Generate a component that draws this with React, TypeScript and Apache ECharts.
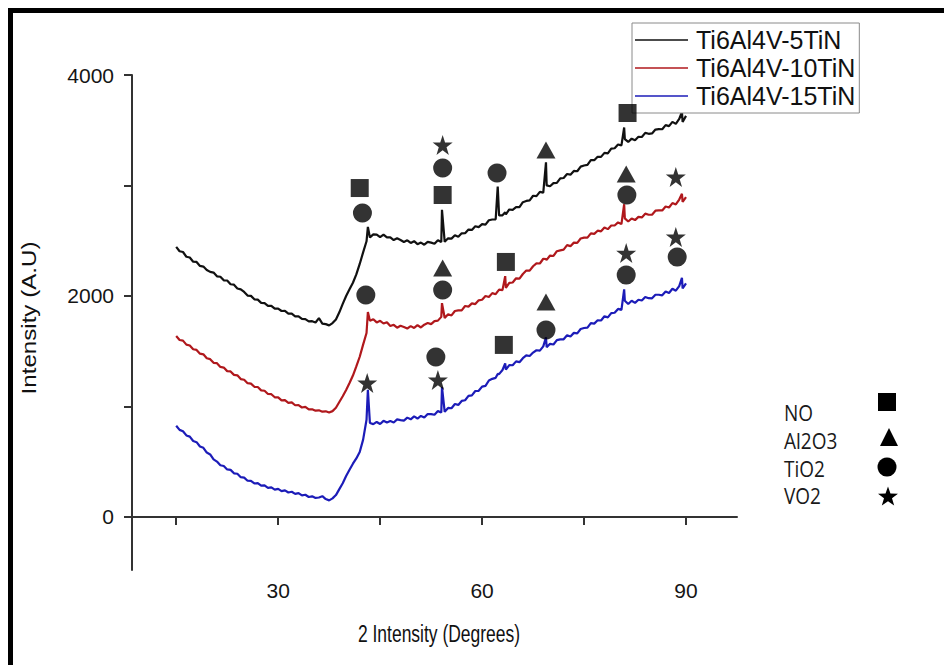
import React, { useEffect, useRef } from 'react';
import * as echarts from 'echarts';

// 2θ angles (degrees) shared by the three traces
const angles = [
  15, 15.5, 16, 16.5, 17, 17.5, 18, 18.5, 19, 19.5,
  20, 20.5, 21, 21.5, 22, 22.5, 23, 23.5, 24, 24.5,
  25, 25.5, 26, 26.5, 27, 27.5, 28, 28.5, 29, 29.5,
  30, 30.5, 31, 31.5, 32, 32.5, 33, 33.5, 34, 34.5,
  35, 35.5, 36, 36.5, 37, 37.5, 38, 38.5, 39, 39.5,
  40, 40.5, 41, 41.5, 42, 42.5, 43, 43.2, 43.5, 44,
  44.5, 45, 45.5, 46, 46.5, 47, 47.5, 48, 48.5, 49,
  49.5, 50, 50.5, 51, 51.5, 52, 52.5, 53, 53.5, 54,
  54.1, 54.5, 55, 55.5, 56, 56.5, 57, 57.5, 58, 58.5,
  59, 59.5, 60, 60.5, 61, 61.5, 62, 62.3, 62.5, 63,
  63.4, 63.5, 64, 64.5, 65, 65.5, 66, 66.5, 67, 67.5,
  68, 68.5, 69, 69.4, 69.5, 70, 70.5, 71, 71.5, 72,
  72.5, 73, 73.5, 74, 74.5, 75, 75.5, 76, 76.5, 77,
  77.5, 78, 78.5, 79, 79.5, 80, 80.5, 80.9, 81, 81.5,
  82, 82.5, 83, 83.5, 84, 84.5, 85, 85.5, 86, 86.5,
  87, 87.5, 88, 88.5, 89, 89.4, 89.5, 90,
];

const tin5 = [
  2445, 2405, 2398, 2355, 2348, 2310, 2308, 2272, 2266, 2235,
  2218, 2212, 2178, 2174, 2142, 2140, 2106, 2102, 2068, 2060,
  2037, 2004, 2001, 1970, 1967, 1938, 1936, 1910, 1911, 1885,
  1886, 1864, 1866, 1841, 1840, 1816, 1815, 1792, 1790, 1770,
  1772, 1760, 1800, 1750, 1745, 1734, 1755, 1788, 1852, 1928,
  2000, 2060, 2120, 2195, 2290, 2395, 2495, 2625, 2530, 2558,
  2556, 2533, 2555, 2530, 2531, 2506, 2522, 2507, 2489, 2504,
  2480, 2496, 2469, 2483, 2464, 2489, 2483, 2473, 2504, 2488,
  2780, 2490, 2522, 2519, 2549, 2536, 2567, 2568, 2601, 2598,
  2631, 2623, 2650, 2646, 2685, 2692, 2694, 2990, 2730, 2730,
  2757, 2739, 2783, 2779, 2804, 2805, 2849, 2860, 2865, 2907,
  2904, 2942, 2936, 3210, 3001, 2993, 3021, 3023, 3064, 3068,
  3104, 3098, 3132, 3129, 3171, 3181, 3186, 3229, 3229, 3260,
  3259, 3295, 3291, 3334, 3337, 3371, 3363, 3525, 3420, 3394,
  3424, 3410, 3441, 3439, 3476, 3468, 3471, 3506, 3510, 3509,
  3546, 3537, 3576, 3558, 3602, 3665, 3575, 3630,
];

const tin10 = [
  1638, 1602, 1596, 1560, 1552, 1518, 1512, 1478, 1472, 1436,
  1428, 1395, 1392, 1358, 1352, 1320, 1317, 1286, 1282, 1248,
  1242, 1211, 1207, 1178, 1176, 1146, 1142, 1113, 1111, 1083,
  1082, 1055, 1057, 1033, 1037, 1011, 1012, 991, 996, 974,
  975, 962, 965, 953, 956, 945, 958, 988, 1040, 1092,
  1150, 1212, 1280, 1362, 1450, 1560, 1665, 1855, 1775, 1790,
  1761, 1775, 1751, 1763, 1728, 1739, 1713, 1731, 1720, 1706,
  1727, 1711, 1736, 1715, 1740, 1755, 1745, 1773, 1777, 1811,
  1935, 1801, 1834, 1824, 1864, 1869, 1870, 1909, 1904, 1933,
  1927, 1961, 1966, 2000, 1991, 2026, 2016, 2042, 2057, 2053,
  2180, 2073, 2119, 2122, 2160, 2157, 2199, 2230, 2229, 2269,
  2295, 2294, 2337, 2333, 2327, 2366, 2362, 2405, 2413, 2420,
  2460, 2451, 2483, 2480, 2520, 2528, 2528, 2567, 2562, 2591,
  2585, 2620, 2605, 2638, 2638, 2666, 2651, 2830, 2702, 2674,
  2701, 2687, 2716, 2711, 2745, 2735, 2736, 2772, 2775, 2774,
  2810, 2801, 2841, 2828, 2873, 2925, 2851, 2895,
];

const tin15 = [
  826, 788, 776, 738, 727, 688, 677, 638, 626, 583,
  566, 521, 501, 468, 461, 430, 426, 395, 391, 360,
  356, 328, 326, 303, 306, 283, 286, 264, 268, 248,
  254, 234, 241, 221, 228, 209, 216, 195, 201, 181,
  187, 172, 176, 188, 162, 150, 168, 198, 252, 305,
  370, 428, 482, 530, 588, 700, 880, 1150, 850, 840,
  860, 841, 870, 855, 868, 855, 883, 877, 872, 899,
  884, 910, 891, 914, 900, 932, 931, 925, 958, 945,
  1175, 952, 987, 984, 1022, 1014, 1050, 1056, 1096, 1101,
  1140, 1142, 1180, 1186, 1235, 1250, 1259, 1295, 1293, 1330,
  1390, 1333, 1375, 1373, 1408, 1401, 1437, 1462, 1457, 1488,
  1509, 1505, 1544, 1625, 1536, 1567, 1561, 1600, 1607, 1608,
  1645, 1634, 1666, 1661, 1701, 1710, 1713, 1754, 1750, 1780,
  1778, 1816, 1806, 1845, 1848, 1883, 1874, 2060, 1957, 1928,
  1957, 1938, 1966, 1959, 1991, 1980, 1979, 2011, 2011, 2006,
  2040, 2027, 2065, 2048, 2090, 2165, 2068, 2114,
];

// Phase markers [2θ, intensity]
const noMarks = [[42.0, 2977], [54.2, 2914], [81.4, 3656], [63.5, 2308], [63.2, 1557]];
const al2o3Marks = [[69.4, 3321], [54.2, 2253], [81.2, 3104], [69.4, 1946]];
const tio2Marks = [[42.4, 2751], [54.2, 3158], [62.2, 3113], [42.9, 2009], [54.2, 2054], [81.3, 2914], [53.2, 1448], [69.4, 1692], [81.2, 2190], [88.7, 2353]];
const vo2Marks = [[54.2, 3367], [88.5, 3077], [43.1, 1213], [53.5, 1240], [81.2, 2389], [88.5, 2534]];

const seriesNames = ['Ti6Al4V-5TiN', 'Ti6Al4V-10TiN', 'Ti6Al4V-15TiN'];
const seriesColors = ['#111111', '#b0181c', '#1c1cb8'];
const phaseNames = ['NO', 'Al2O3', 'TiO2', 'VO2'];

const yTicks = [0, 1000, 2000, 3000, 4000];
const yLabels = [0, 2000, 4000];
const xTicks = [15, 30, 45, 60, 75, 90];
const xLabels = [30, 60, 90];

const STAR = 'path://M50,0 L61.8,35.1 L98.9,35.1 L69,56.9 L80.3,91.9 L50,70.2 L19.7,91.9 L31,56.9 L1.1,35.1 L38.2,35.1 Z';
const FONT = 'Liberation Sans, Arial, sans-serif';

function starPoints(cx: number, cy: number, r: number, ri: number) {
  const pts: number[][] = [];
  for (let i = 0; i < 10; i++) {
    const rr = i % 2 === 0 ? r : ri;
    const a = -Math.PI / 2 + (i * Math.PI) / 5;
    pts.push([cx + rr * Math.cos(a), cy + rr * Math.sin(a)]);
  }
  return pts;
}

export default function App() {
  const ref = useRef<HTMLDivElement>(null);
  useEffect(() => {
    if (!ref.current) return;
    const chart = echarts.init(ref.current, null, { renderer: 'svg' });
    const traces = [tin5, tin10, tin15];
    const axisColor = '#333';
    const fmt = (v: number) => String(v);
    const option: any = {
      animation: false,
      backgroundColor: '#fff',
      grid: { left: 132, top: 75, width: 605, height: 495 },
      xAxis: {
        type: 'value', min: 8.5, max: 97.5, position: 'bottom',
        axisLine: { show: true, lineStyle: { color: axisColor, width: 2 } },
        axisTick: { show: true, length: 8, lineStyle: { color: axisColor, width: 2 }, customValues: xTicks },
        axisLabel: { customValues: xLabels, formatter: fmt, fontSize: 21, fontFamily: FONT, color: '#151515', margin: 10 },
        splitLine: { show: false },
      },
      yAxis: {
        type: 'value', min: -480, max: 4000, position: 'left',
        axisLine: { show: true, lineStyle: { color: axisColor, width: 2 } },
        axisTick: { show: true, length: 8, lineStyle: { color: axisColor, width: 2 }, customValues: yTicks },
        axisLabel: { customValues: yLabels, formatter: fmt, fontSize: 21, fontFamily: FONT, color: '#151515', margin: 18 },
        splitLine: { show: false },
      },
      legend: {
        data: seriesNames,
        orient: 'vertical',
        left: 632,
        top: 23,
        padding: [3, 4, 3, 3],
        itemGap: 0,
        itemWidth: 53,
        itemHeight: 1.5,
        icon: 'rect',
        borderColor: '#8a8a8a',
        borderWidth: 1,
        backgroundColor: '#fff',
        textStyle: { fontSize: 25, fontFamily: FONT, color: '#111', lineHeight: 28, padding: [0, 0, 0, 3] },
      },
      series: [
        ...traces.map((t, k) => ({
          name: seriesNames[k],
          type: 'line',
          data: angles.map((a, i) => [a, t[i]]),
          symbol: 'none',
          showSymbol: false,
          color: seriesColors[k],
          lineStyle: { color: seriesColors[k], width: 2.2 },
          z: 2,
        })),
        { name: phaseNames[0], type: 'scatter', data: noMarks, symbol: 'rect', symbolSize: 18, itemStyle: { color: '#000' }, z: 10 },
        { name: phaseNames[1], type: 'scatter', data: al2o3Marks, symbol: 'triangle', symbolSize: [19, 17], itemStyle: { color: '#000' }, z: 10 },
        { name: phaseNames[2], type: 'scatter', data: tio2Marks, symbol: 'circle', symbolSize: 19, itemStyle: { color: '#000' }, z: 10 },
        { name: phaseNames[3], type: 'scatter', data: vo2Marks, symbol: STAR, symbolSize: 20, itemStyle: { color: '#000' }, z: 10 },
      ],
      graphic: [
        { type: 'rect', shape: { x: 8, y: 8, width: 936, height: 5 }, style: { fill: '#000' }, z: 100 },
        { type: 'rect', shape: { x: 8, y: 8, width: 5, height: 657 }, style: { fill: '#000' }, z: 100 },
        {
          type: 'text', x: 439, y: 633, scaleX: 0.92, scaleY: 1.25,
          style: { text: '2 Intensity (Degrees)', fontSize: 19, fontFamily: FONT, fill: '#111', textAlign: 'center', textVerticalAlign: 'middle' },
        },
        {
          type: 'text', x: 29, y: 318, rotation: Math.PI / 2, scaleX: 1.15,
          style: { text: 'Intensity (A.U)', fontSize: 21, fontFamily: FONT, fill: '#111', textAlign: 'center', textVerticalAlign: 'middle' },
        },
        ...phaseNames.map((n, i) => ({
          type: 'text', x: 784, y: [412, 440, 468, 495][i], scaleY: 1.15,
          style: { text: n, fontSize: 19, fontFamily: 'Open Sans, sans-serif', fill: '#1a1a1a', textAlign: 'left', textVerticalAlign: 'middle' },
        })),
        { type: 'rect', shape: { x: 878, y: 393, width: 18, height: 18 }, style: { fill: '#000' } },
        { type: 'polygon', shape: { points: [[880, 446], [898, 446], [889, 428]] }, style: { fill: '#000' } },
        { type: 'circle', shape: { cx: 887, cy: 467, r: 9.5 }, style: { fill: '#000' } },
        { type: 'polygon', shape: { points: starPoints(888, 497, 10.5, 4.2) }, style: { fill: '#000' } },
      ],
    };
    chart.setOption(option);
    return () => chart.dispose();
  }, []);
  return (
    <div
      ref={ref}
      style={{ position: 'fixed', left: 0, top: 0, width: 944, height: 665, background: '#fff' }}
    />
  );
}
